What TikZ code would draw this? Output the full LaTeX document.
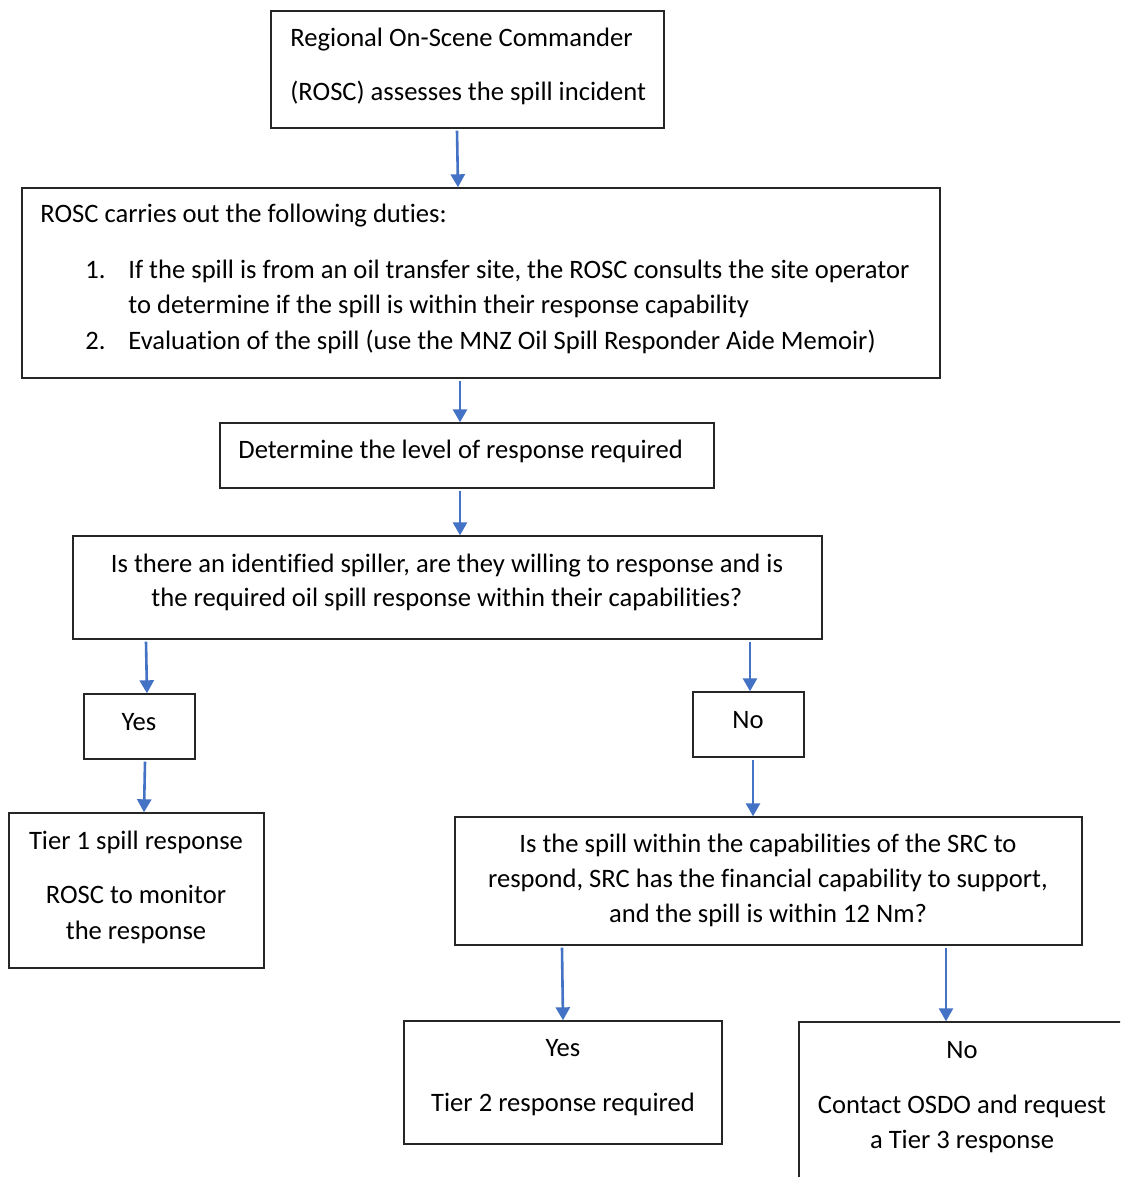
\documentclass[tikz,border=0pt]{standalone}
\usepackage{fontspec}
\setmainfont[Ligatures=NoCommon]{Carlito}
\usetikzlibrary{arrows.meta}
\definecolor{arrowblue}{HTML}{4472C4}
\begin{document}
\begin{tikzpicture}[x=0.5pt,y=-0.5pt,
  box/.style={draw=black!85,line width=0.7pt,inner sep=0pt},
  txt/.style={inner sep=0pt,anchor=base},
  txtl/.style={inner sep=0pt,anchor=base west},
  flow/.style={draw=arrowblue,line width=1.3pt,-{Triangle[width=7pt,length=6.5pt]}},
  font=\fontsize{13.3}{16}\selectfont]
  \clip (0,0) rectangle (1120,1177);
  \fill [white] (0,0) rectangle (1120,1177);
  % boxes
  \node [box,minimum width=196.5pt,minimum height=58.5pt] (assess) at (467.5,69.5) {};
  \node [box,minimum width=459pt,minimum height=95pt] (duties) at (481,283) {};
  \node [box,minimum width=247pt,minimum height=32.5pt] (level) at (467,455.5) {};
  \node [box,minimum width=374.5pt,minimum height=51.5pt] (spiller) at (447.5,587.5) {};
  \node [box,minimum width=55.5pt,minimum height=32.5pt] (yesA) at (139.5,726.5) {};
  \node [box,minimum width=55.5pt,minimum height=32.5pt] (noA) at (748.5,724.5) {};
  \node [box,minimum width=127.5pt,minimum height=77.5pt] (tierA) at (136.5,890.5) {};
  \node [box,minimum width=313.5pt,minimum height=64pt] (src) at (768.5,881) {};
  \node [box,minimum width=159pt,minimum height=61.5pt] (tierB) at (563,1082.5) {};
  \node [box,minimum width=170pt,minimum height=90pt] (tierC) at (969,1112) {};
  % texts
  \node [txtl] (assessA) at (290,47) {Regional On-Scene Commander};
  \node [txtl] (assessB) at (290,101) {(ROSC) assesses the spill incident};
  \node [txtl] (dutiesA) at (40,222) {ROSC carries out the following duties:};
  \node [txtl] (numA) at (85,278) {1.};
  \node [txtl] (itemA) at (128,278) {If the spill is from an oil transfer site, the ROSC consults the site operator};
  \node [txtl] (itemAb) at (128,313) {to determine if the spill is within their response capability};
  \node [txtl] (numB) at (85,349) {2.};
  \node [txtl] (itemB) at (128,349) {Evaluation of the spill (use the MNZ Oil Spill Responder Aide Memoir)};
  \node [txtl] (levelA) at (238,458) {Determine the level of response required};
  \node [txt] (spillerA) at (447,572) {Is there an identified spiller, are they willing to response and is};
  \node [txt] (spillerB) at (447,606) {the required oil spill response within their capabilities?};
  \node [txt] (yesAt) at (139,730) {Yes};
  \node [txt] (noAt) at (748,728) {No};
  \node [txt] (tierAa) at (136,849) {Tier 1 spill response};
  \node [txt] (tierAb) at (136,903) {ROSC to monitor};
  \node [txt] (tierAc) at (136,939) {the response};
  \node [txt] (srcA) at (768,852) {Is the spill within the capabilities of the SRC to};
  \node [txt] (srcB) at (768,887) {respond, SRC has the financial capability to support,};
  \node [txt] (srcC) at (768,922) {and the spill is within 12 Nm?};
  \node [txt] (tierBa) at (563,1056) {Yes};
  \node [txt] (tierBb) at (563,1111) {Tier 2 response required};
  \node [txt] (tierCa) at (962,1058) {No};
  \node [txt] (tierCb) at (962,1113) {Contact OSDO and request};
  \node [txt] (tierCc) at (962,1148) {a Tier 3 response};
  % connectors
  \draw [flow] (457,0 |- assess.south) ++(0,2) -- (458,0 |- duties.north);
  \draw [flow] (460,0 |- duties.south) ++(0,2) -- (460,0 |- level.north);
  \draw [flow] (460,0 |- level.south) ++(0,2) -- (460,0 |- spiller.north);
  \draw [flow] (146,0 |- spiller.south) ++(0,2) -- (147,0 |- yesA.north);
  \draw [flow] (750,0 |- spiller.south) ++(0,2) -- (750,0 |- noA.north);
  \draw [flow] (145,0 |- yesA.south) ++(0,2) -- (144,0 |- tierA.north);
  \draw [flow] (753,0 |- noA.south) ++(0,2) -- (753,0 |- src.north);
  \draw [flow] (562,0 |- src.south) ++(0,2) -- (563,0 |- tierB.north);
  \draw [flow] (946,0 |- src.south) ++(0,2) -- (946,0 |- tierC.north);
\end{tikzpicture}
\end{document}
